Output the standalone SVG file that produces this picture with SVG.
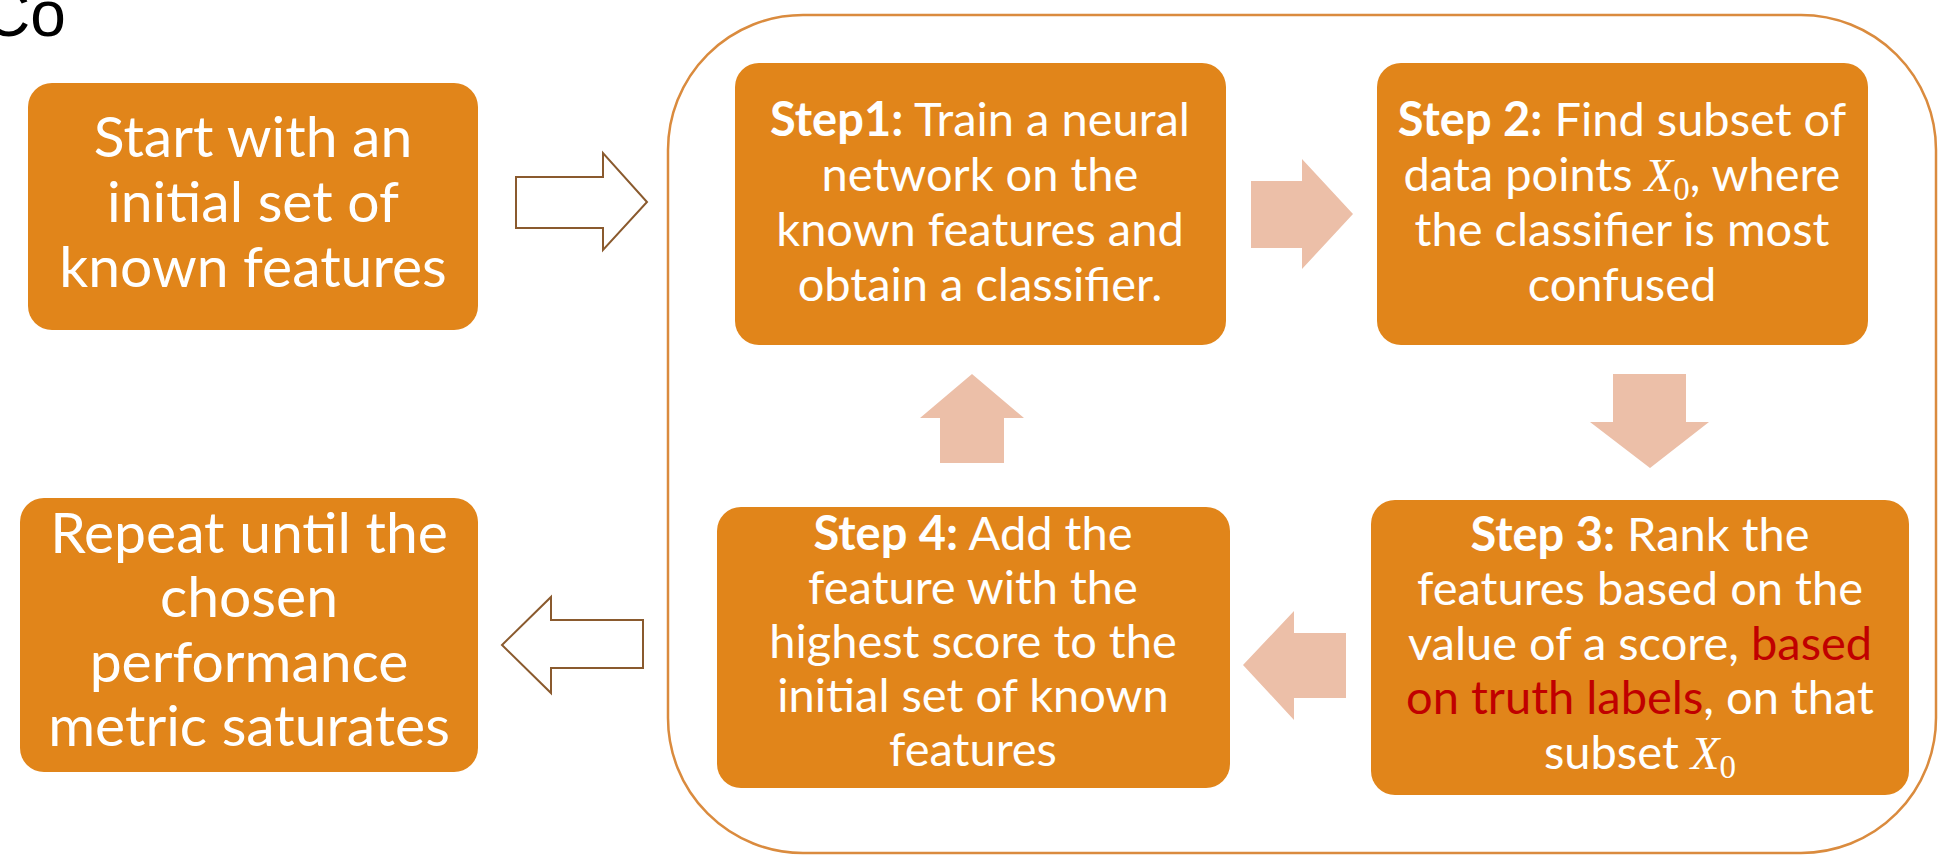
<svg xmlns="http://www.w3.org/2000/svg" width="1939" height="857" viewBox="0 0 1939 857">
<style>
.box{fill:#E1851A;}
.t{font-family:Lato,"Open Sans",sans-serif;fill:#FFFFFF;text-anchor:middle;}
.big{font-size:57px;}
.sm{font-size:47px;}
.b{font-weight:bold;}
.red{fill:#C00000;}
.mx{font-family:"Liberation Serif",serif;font-style:italic;}
.sub{font-family:"Liberation Serif",serif;font-size:33px;}
.pink{fill:#ECBFA8;}
.hollow{fill:#FFFFFF;stroke:#8A5A2E;stroke-width:2;}
</style>
<rect width="1939" height="857" fill="#FFFFFF"/>
<text x="-16" y="36" font-family="Liberation Sans, Arial, sans-serif" font-size="64" fill="#000000">Co</text>
<g id="container">
<rect x="668" y="15" width="1268" height="838" rx="135" ry="135" fill="none" stroke="#DA8B3E" stroke-width="2.5"/>
</g>
<g id="start">
<rect class="box" x="28" y="83" width="450" height="247" rx="24"/>
<text class="t big" x="253" y="157">Start with an</text>
<text class="t big" x="253" y="222">initial set of</text>
<text class="t big" x="253" y="287">known features</text>
</g>
<g id="step1">
<rect class="box" x="735" y="63" width="491" height="282" rx="24"/>
<text class="t sm" x="980" y="136"><tspan class="b">Step1:</tspan> Train a neural</text>
<text class="t sm" x="980" y="191">network on the</text>
<text class="t sm" x="980" y="246">known features and</text>
<text class="t sm" x="980" y="301">obtain a classifier.</text>
</g>
<g id="step2">
<rect class="box" x="1377" y="63" width="491" height="282" rx="24"/>
<text class="t sm" x="1622" y="136"><tspan class="b">Step 2:</tspan> Find subset of</text>
<text class="t sm" x="1622" y="191">data points <tspan class="mx">X</tspan><tspan class="sub" dy="9">0</tspan><tspan dy="-9">, where</tspan></text>
<text class="t sm" x="1622" y="246">the classifier is most</text>
<text class="t sm" x="1622" y="301">confused</text>
</g>
<g id="step3">
<rect class="box" x="1371" y="500" width="538" height="295" rx="24"/>
<text class="t sm" x="1640" y="551"><tspan class="b">Step 3:</tspan> Rank the</text>
<text class="t sm" x="1640" y="605">features based on the</text>
<text class="t sm" x="1640" y="660">value of a score, <tspan class="red">based</tspan></text>
<text class="t sm" x="1640" y="714"><tspan class="red">on truth labels</tspan>, on that</text>
<text class="t sm" x="1640" y="769">subset <tspan class="mx">X</tspan><tspan class="sub" dy="9">0</tspan></text>
</g>
<g id="step4">
<rect class="box" x="717" y="507" width="513" height="281" rx="24"/>
<text class="t sm" x="973" y="550"><tspan class="b">Step 4:</tspan> Add the</text>
<text class="t sm" x="973" y="604">feature with the</text>
<text class="t sm" x="973" y="658">highest score to the</text>
<text class="t sm" x="973" y="712">initial set of known</text>
<text class="t sm" x="973" y="766">features</text>
</g>
<g id="repeat">
<rect class="box" x="20" y="498" width="458" height="274" rx="24"/>
<text class="t big" x="249" y="553">Repeat until the</text>
<text class="t big" x="249" y="617">chosen</text>
<text class="t big" x="249" y="682">performance</text>
<text class="t big" x="249" y="746">metric saturates</text>
</g>
<g id="connectors">
<polygon class="hollow" points="516,177 603,177 603,153 647,202 603,250 603,228 516,228"/>
<polygon class="hollow" points="643,620 551,620 551,597 502,645 551,693 551,668 643,668"/>
<polygon class="pink" points="1251,181 1302,181 1302,159 1353,214 1302,269 1302,248 1251,248"/>
<polygon class="pink" points="1613,374 1686,374 1686,422 1709,422 1650,468 1590,422 1613,422"/>
<polygon class="pink" points="1243,665 1294,611 1294,633 1346,633 1346,698 1294,698 1294,720"/>
<polygon class="pink" points="972,374 1024,418 1004,418 1004,463 940,463 940,418 920,418"/>
</g>
</svg>
